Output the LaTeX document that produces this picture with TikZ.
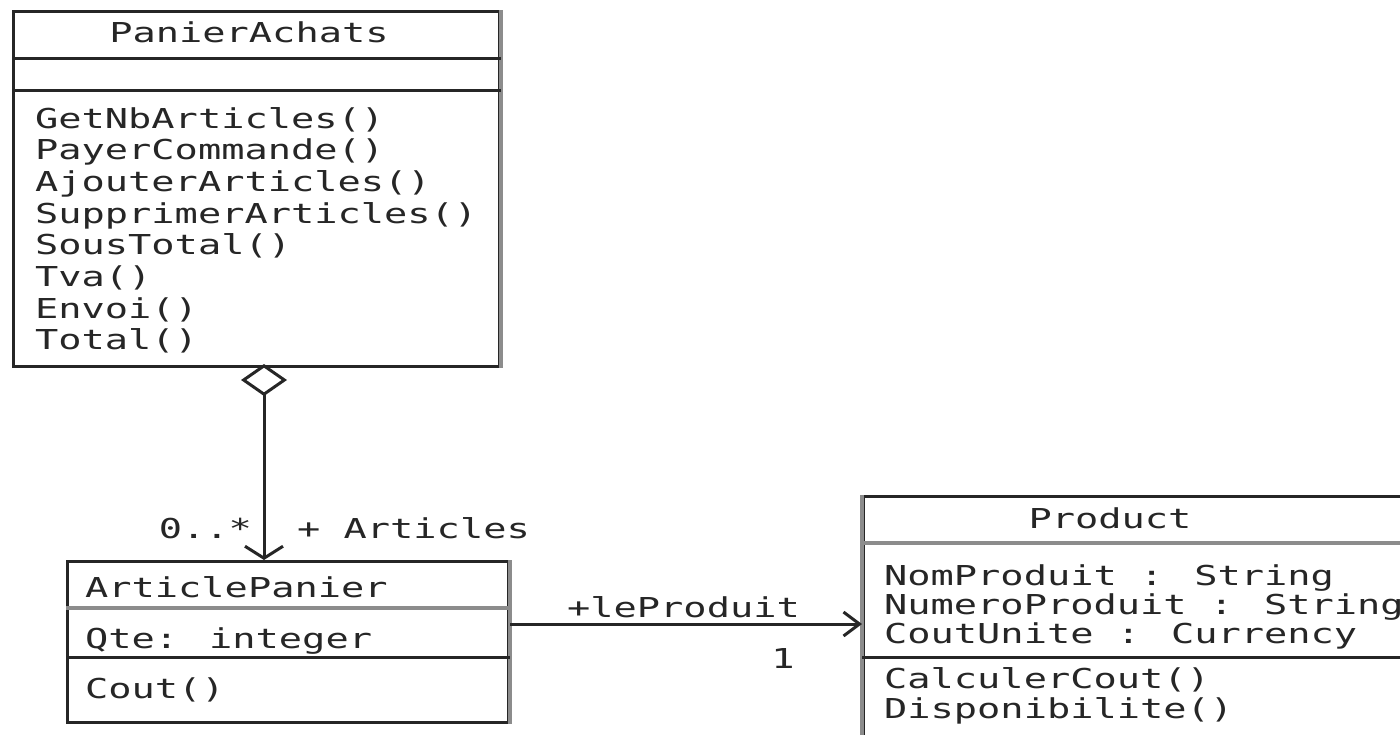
\documentclass[tikz,border=0pt]{standalone}
\usepackage{fontspec}
\newfontfamily\umlfont[FakeStretch=1.41]{DejaVu Sans Mono}
\usetikzlibrary{arrows.meta,calc}
\definecolor{ink}{HTML}{262626}
\definecolor{edge}{HTML}{8C8C8C}
\begin{document}
\begin{tikzpicture}[x=1pt,y=-1pt,
  every node/.style={font=\umlfont\fontsize{27.4}{31.7}\selectfont, text=ink, inner sep=0pt},
  txt/.style={anchor=base west},
  ctxt/.style={anchor=base},
  classbox/.style={draw=ink, line width=3pt, fill=white, anchor=north west, inner sep=0pt},
  sep/.style={draw=ink, line width=3pt},
  gsep/.style={draw=edge, line width=4pt},
  conn/.style={draw=ink, line width=3pt},
]
\useasboundingbox (0,0) rectangle (1400,734);
\clip (0,0) rectangle (1400,734);

% ---- PanierAchats ----
\node[classbox, minimum width=486pt, minimum height=355pt] (pa) at (12,10) {};
\draw[gsep] (pa.north east) -- (pa.south east);
\draw[sep] ($(pa.north west)+(0,48)$) -- ($(pa.north east)+(0,48)$);
\draw[sep] ($(pa.north west)+(0,80)$) -- ($(pa.north east)+(0,80)$);
\node[ctxt] (pat) at (249,42) {PanierAchats};
\foreach \t [count=\i] in {GetNbArticles(),PayerCommande(),AjouterArticles(),SupprimerArticles(),SousTotal(),Tva(),Envoi(),Total()}
  \node[txt] (pam\i) at (35,{128+31.7*(\i-1)}) {\t};

% ---- ArticlePanier ----
\node[classbox, minimum width=441pt, minimum height=161pt] (ap) at (66,560) {};
\draw[gsep] (ap.north east) -- (ap.south east);
\draw[gsep] ($(ap.north west)+(0,48)$) -- ($(ap.north east)+(0,48)$);
\draw[sep] ($(ap.north west)+(0,97)$) -- ($(ap.north east)+(0,97)$);
\node[txt] (apt) at (85,597) {ArticlePanier};
\node[txt] (apa) at (85,648) {Qte: integer};
\node[txt] (apm) at (85,698) {Cout()};

% ---- Product ----
\node[classbox, minimum width=600pt, minimum height=300pt] (pr) at (862,495) {};
\draw[gsep] (pr.north west) -- (pr.south west);
\draw[gsep] ($(pr.north west)+(0,48)$) -- ($(pr.north east)+(0,48)$);
\draw[sep] ($(pr.north west)+(0,162)$) -- ($(pr.north east)+(0,162)$);
\node[ctxt] (prt) at (1110,528) {Product};
\node[txt] (pra1) at (884,585) {NomProduit : String};
\node[txt] (pra2) at (884,614) {NumeroProduit : String};
\node[txt] (pra3) at (884,643) {CoutUnite : Currency};
\node[txt] (prm1) at (884,688) {CalculerCout()};
\node[txt] (prm2) at (884,718) {Disponibilite()};

% ---- connectors ----
\coordinate (aggtop) at ($(pa.south west)+(252,-4)$);
\draw[conn, {Diamond[open,fill=white,length=32pt,width=46pt]}-{Straight Barb[length=12pt,width=38pt]}]
  (aggtop) -- (aggtop |- ap.north);
\coordinate (lnk) at ($(ap.north east)+(0,64)$);
\draw[conn, -{Straight Barb[length=16pt,width=24pt]}] (lnk) -- (lnk -| pr.west);

% ---- labels ----
\node[anchor=base east] (mult1) at (252,538) {0..*};
\node[txt] (role1) at (297,538) {+ Articles};
\node[txt] (role2) at (567,617) {+leProduit};
\node[ctxt] (mult2) at (783,668) {1};
\end{tikzpicture}
\end{document}
